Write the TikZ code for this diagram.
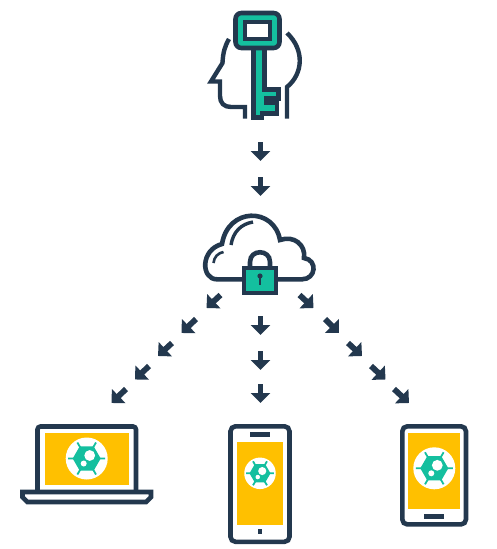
\documentclass[tikz,border=0pt]{standalone}
\usetikzlibrary{arrows.meta}
\definecolor{inkblue}{RGB}{35,56,78}
\definecolor{keyteal}{RGB}{20,191,159}
\definecolor{screenyellow}{RGB}{255,192,0}
\begin{document}
\begin{tikzpicture}[
  x=1pt, y=-1pt,
  flowarrow/.style={-{Triangle[length=10pt, width=19pt]}, line width=5.8pt, inkblue},
  outline/.style={line width=4.6pt, draw=inkblue, line join=miter},
  screen/.style={fill=screenyellow, draw=none},
  dark/.style={fill=inkblue, draw=none},
  cell/.pic={
    \fill[white] (0,0) circle (21);
    \draw[keyteal, line width=1.8pt] (-18.5,0) -- (18.5,0) (-9.3,-16) -- (9.3,16) (9.3,-16) -- (-9.3,16);
    \fill[keyteal] (-14,0) -- (-7,-12.1) -- (7,-12.1) -- (14,0) -- (7,12.1) -- (-7,12.1) -- cycle;
    \fill[white] (3,-3) circle (5.4);
    \fill[white] (-3,5) circle (3);
  }
]
  \useasboundingbox (0,0) rectangle (497,549);

  % Key and head
  \draw[outline, line width=4.4pt] (229,39) .. controls (225,46) and (223,52) .. (222.5,63) -- (211,81.5) -- (220,81.5) -- (220,96) .. controls (220,103) and (224,107) .. (231,107) -- (245,107) -- (245,118.5);
  \draw[outline, line width=4.4pt] (287,33) .. controls (305,50) and (303,74) .. (287,87) -- (287,118.5);
  \draw[outline, fill=keyteal] (253.5,48) -- (253.5,117.5) -- (262,117.5) -- (262,113.5) -- (277,113.5) -- (277,103) -- (266,103) -- (266,98.5) -- (278.5,98.5) -- (278.5,89.7) -- (264.5,89.7) -- (264.5,48) -- cycle;
  \draw[outline, fill=keyteal, rounded corners=6pt] (235.5,13) rectangle (279.5,48);
  \draw[outline, fill=white] (245,22) rectangle (270,39);

  % Cloud
  \draw[outline] (244,279.3) -- (217,279.3) .. controls (201,279.3) and (200,250) .. (222,244) .. controls (228,207) and (274,207) .. (280,240) .. controls (294,235) and (306,245) .. (304,258) .. controls (318,260) and (316,279.3) .. (302,279.3) -- (276,279.3);
  \draw[inkblue, line width=3.4pt] (231,245) .. controls (233,232) and (241,224) .. (253,222);
  \draw[inkblue, line width=2.6pt] (213.5,263) .. controls (214,257) and (218,253) .. (223.5,252);

  % Lock
  \draw[outline] (250,268) -- (250,262) .. controls (250,249) and (270,249) .. (270,262) -- (270,268);
  \draw[outline, fill=keyteal] (244,268) rectangle (276,293);
  \fill[inkblue] (260,276) circle (2.6);
  \fill[inkblue] (258.6,276) rectangle (261.4,284.5);

  % Laptop
  \draw[outline, rounded corners=3pt, fill=white] (37.5,491) -- (37.5,426.5) -- (136,426.5) -- (136,491);
  \fill[screen] (44.7,433.3) rectangle (129.3,485);
  \draw[outline, fill=white] (22.5,492) -- (151,492) -- (151,497) -- (146,502) -- (27.5,502) -- (22.5,497) -- cycle;
  \pic at (86.7,458.5) {cell};

  % Phone
  \draw[outline, rounded corners=5pt, fill=white] (230.5,426.3) rectangle (289.5,541.8);
  \fill[screen] (237.3,441.7) rectangle (283,525);
  \fill[dark] (250,431.7) rectangle (270,436.7);
  \fill[dark] (257.7,529.3) rectangle (262.3,534);
  \pic[scale=0.75] at (260,473.3) {cell};

  % Tablet
  \draw[outline, rounded corners=5pt, fill=white] (402.3,426.3) rectangle (466,524.4);
  \fill[screen] (408.3,433.3) rectangle (460,509.3);
  \fill[dark] (424.3,514) rectangle (444,518.7);
  \pic at (434.3,468.3) {cell};

  % Arrows
  \foreach \idx/\xa/\ya/\xb/\yb in {
    1/260.5/142/260.5/161, 2/260.5/177/260.5/196,
    3/260.5/316/260.5/335, 4/260.5/351/260.5/370, 5/260.5/384/260.5/403,
    6/220.5/295/206.5/308, 7/196/319/181.5/333, 8/172/343/158/356, 9/149/366/135/379.5, 10/126/389/111.5/403,
    11/299.5/295/313.5/308, 12/325/319/339/333, 13/348/343/362/356, 14/371/366/385.5/379.5, 15/394/389/409/403}{
    \coordinate (from\idx) at (\xa,\ya);
    \coordinate (to\idx) at (\xb,\yb);
    \draw[flowarrow] (from\idx) -- (to\idx);
  }
\end{tikzpicture}
\end{document}
